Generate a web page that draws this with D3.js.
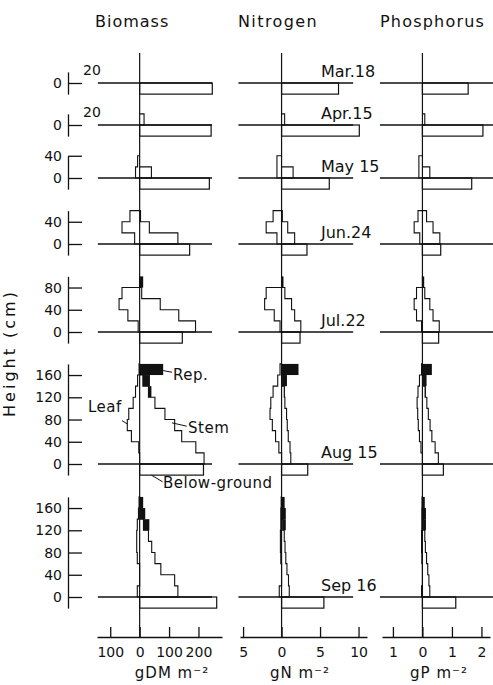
<!DOCTYPE html>
<html>
<head>
<meta charset="utf-8">
<script src="https://cdn.jsdelivr.net/npm/d3@7"></script>
<style>
body { margin: 0; background: #fff; }
svg text { font-family: "DejaVu Sans", sans-serif; fill: #111; }
</style>
</head>
<body>
<div id="chart"></div>
<script>
// vertical profiles of a stand, 20 cm layers counted up from the ground
var dates = ["Mar.18", "Apr.15", "May 15", "Jun.24", "Jul.22", "Aug 15", "Sep 16"];
var axisTops = [20, 20, 40, 60, 100, 180, 180];
var heightLabels = [[0], [0], [0, 40], [0, 40], [0, 40, 80], [0, 40, 80, 120, 160], [0, 40, 80, 120, 160]];

// biomass, g DM m-2
var bioLeaf = [[], [], [14, 7], [17, 60, 33], [5, 40, 70, 60], [0, 3, 28, 42, 37, 22, 14, 7, 2], [8, 0, 0, 8, 10, 10, 8, 4, 2]];
var bioStem = [[], [15], [40], [130, 33, 3], [190, 133, 70, 7, 0], [219, 191, 143, 119, 86, 52, 30, 11, 0], [130, 119, 72, 52, 41, 30, 13, 3, 0]];
var bioRep = [[], [], [], [], [0, 0, 0, 0, 12], [0, 0, 0, 0, 0, 0, 10, 24, 80], [0, 0, 0, 0, 0, 0, 20, 16, 12]];
var bioBelow = [247, 243, 237, 170, 145, 217, 262];

// nitrogen, g N m-2
var nLeaf = [[], [], [0.6, 0.6], [0.6, 2.0, 1.1], [0.2, 0.95, 2.2, 2.0], [0, 0.35, 0.78, 1.2, 1.5, 1.4, 1.1, 0.5, 0.2], [0.3, 0, 0, 0.1, 0.15, 0.15, 0.1, 0.1, 0.05]];
var nStem = [[], [0.4], [1.5], [1.7, 0.8, 0.1], [2.5, 1.7, 1.3, 0.43, 0], [1.2, 1.1, 0.87, 0.74, 0.65, 0.43, 0.35, 0.1, 0], [1.0, 0.9, 0.7, 0.55, 0.45, 0.35, 0.15, 0.05, 0]];
var nRep = [[], [], [], [], [0, 0, 0, 0, 0.25], [0, 0, 0, 0, 0, 0, 0.1, 0.6, 2.2], [0, 0, 0, 0, 0, 0, 0.4, 0.5, 0.4]];
var nBelow = [7.4, 10.1, 6.2, 3.3, 2.4, 3.4, 5.5];

// phosphorus, g P m-2
var pLeaf = [[], [], [0.12, 0.12], [0.09, 0.28, 0.15], [0.03, 0.2, 0.28, 0.2], [0, 0.05, 0.1, 0.14, 0.16, 0.18, 0.15, 0.1, 0.03], [0.03, 0, 0, 0.02, 0.03, 0.03, 0.02, 0.02, 0.01]];
var pStem = [[], [0.08], [0.25], [0.59, 0.36, 0.14], [0.57, 0.36, 0.25, 0.08, 0], [0.54, 0.43, 0.32, 0.26, 0.2, 0.15, 0.09, 0.04, 0], [0.25, 0.22, 0.18, 0.14, 0.1, 0.08, 0.04, 0.02, 0]];
var pRep = [[], [], [], [], [0, 0, 0, 0, 0.06], [0, 0, 0, 0, 0, 0, 0.03, 0.1, 0.32], [0, 0, 0, 0, 0, 0, 0.08, 0.1, 0.08]];
var pBelow = [1.55, 2.05, 1.67, 0.62, 0.55, 0.71, 1.13];

var bioTicks = [-100, 0, 100, 200], bioMinor = [-150, -50, 50, 150, 250];
var nTicks = [-5, 0, 5, 10], nMinor = d3.range(-5, 12, 1);
var pTicks = [-1, 0, 1, 2], pMinor = [-0.5, 0.5, 1.5];

var width = 493, height = 685;
var rowBase = [83, 125, 178, 244, 332, 464, 597];
var cmPx = 0.556;
var layer = 20;
var topY = 53, axisY = 637;

var panels = [
    {title: "Biomass", tx: 95, ls: 1, unit: "gDM m\u207B\u00B2", ux: 172,
     leaf: bioLeaf, stem: bioStem, rep: bioRep, below: bioBelow,
     domain: [-145, 280], range: [97, 222], ground: [-142, 246], major: bioTicks, minor: bioMinor},
    {title: "Nitrogen", tx: 238, ls: 1.4, unit: "gN m\u207B\u00B2", ux: 300,
     leaf: nLeaf, stem: nStem, rep: nRep, below: nBelow,
     domain: [-5.4, 11.1], range: [240, 367], ground: [-5.6, 9.3], major: nTicks, minor: nMinor},
    {title: "Phosphorus", tx: 380, ls: 1.2, unit: "gP m\u207B\u00B2", ux: 439,
     leaf: pLeaf, stem: pStem, rep: pRep, below: pBelow,
     domain: [-1.37, 2.29], range: [382, 490], ground: [-1.44, 2.39], major: pTicks, minor: pMinor}
];

var svg = d3.select("#chart").append("svg")
    .attr("width", width)
    .attr("height", height);

svg.append("rect").attr("width", width).attr("height", height).attr("fill", "#fff");

function rowScale(r) {
    return d3.scaleLinear().domain([0, 100]).range([rowBase[r], rowBase[r] - 100 * cmPx]);
}

var line = d3.line();

panels.forEach(function(p) {
    var x = d3.scaleLinear().domain(p.domain).range(p.range);
    var g = svg.append("g");

    g.append("text").attr("x", p.tx).attr("y", 27)
        .attr("font-size", 16).attr("letter-spacing", p.ls).text(p.title);

    // zero line through the whole column
    g.append("line")
        .attr("x1", x(0)).attr("x2", x(0))
        .attr("y1", topY).attr("y2", axisY)
        .attr("stroke", "#111").attr("stroke-width", 1.2);

    dates.forEach(function(d, r) {
        var y = rowScale(r);

        // ground line
        g.append("line")
            .attr("x1", x(p.ground[0])).attr("x2", x(p.ground[1]))
            .attr("y1", y(0)).attr("y2", y(0))
            .attr("stroke", "#111").attr("stroke-width", 1.6);

        // below-ground bar
        g.append("rect")
            .attr("x", x(0)).attr("y", y(0))
            .attr("width", x(p.below[r]) - x(0))
            .attr("height", y(-layer) - y(0))
            .attr("fill", "none").attr("stroke", "#111").attr("stroke-width", 1.2);

        [["leaf", -1], ["stem", 1]].forEach(function(s) {
            var vals = p[s[0]][r];
            if (!vals.length) return;
            var pts = [[0, 0]];
            vals.forEach(function(v, i) {
                pts.push([s[1] * v, i * layer], [s[1] * v, (i + 1) * layer]);
            });
            pts.push([0, vals.length * layer]);
            g.append("path")
                .attr("d", line(pts.map(function(q) { return [x(q[0]), y(q[1])]; })))
                .attr("fill", "none").attr("stroke", "#111").attr("stroke-width", 1.1);
        });

        p.rep[r].forEach(function(v, i) {
            if (!v) return;
            var s0 = p.stem[r][i] || 0;
            g.append("rect")
                .attr("x", x(s0)).attr("y", y((i + 1) * layer))
                .attr("width", x(s0 + v) - x(s0))
                .attr("height", y(i * layer) - y((i + 1) * layer))
                .attr("fill", "#111");
        });
    });

    // bottom scale, ticks pointing up
    var ax = svg.append("g").attr("transform", "translate(0," + axisY + ")");
    ax.call(d3.axisBottom(x).tickValues(p.minor).tickSize(-5).tickSizeOuter(0).tickFormat(""));
    ax.call(d3.axisBottom(x).tickValues(p.major).tickSize(-10).tickSizeOuter(0).tickPadding(10)
        .tickFormat(function(v) { return Math.abs(v); }));
    ax.selectAll("text").attr("font-size", 14).attr("font-family", "DejaVu Sans");
    ax.selectAll("path, line").attr("stroke", "#111").attr("stroke-width", 1.3);

    svg.append("text").attr("x", p.ux).attr("y", 678)
        .attr("text-anchor", "middle").attr("font-size", 15).attr("letter-spacing", 1)
        .text(p.unit);
});

// height axes, one per date
dates.forEach(function(d, r) {
    var y = rowScale(r);
    var yAx = d3.scaleLinear().domain([-layer, axisTops[r]]).range([y(-layer), y(axisTops[r])]);
    var ga = svg.append("g").attr("transform", "translate(68,0)");
    ga.call(d3.axisLeft(yAx).tickValues(d3.range(-layer, axisTops[r] + 1, layer))
        .tickSize(-8).tickSizeOuter(0).tickFormat(""));
    ga.call(d3.axisLeft(yAx).tickValues(heightLabels[r])
        .tickSize(-14).tickSizeOuter(0).tickPadding(6));
    ga.selectAll("text").attr("font-size", 14).attr("font-family", "DejaVu Sans");
    ga.selectAll("path, line").attr("stroke", "#111").attr("stroke-width", 1.3);
    if (axisTops[r] === 20) {
        svg.append("text").attr("x", 83).attr("y", y(20) + 3)
            .attr("font-size", 14).text(axisTops[r]);
    }

    svg.append("text").attr("x", 321).attr("y", rowBase[r] - 6)
        .attr("font-size", 16).text(d);
});

svg.append("text")
    .attr("transform", "translate(15,353) rotate(-90)")
    .attr("text-anchor", "middle").attr("font-size", 16).attr("letter-spacing", 3)
    .text("Height (cm)");

// labels on the August biomass profile
var xb = d3.scaleLinear().domain(panels[0].domain).range(panels[0].range);
var ya = rowScale(5);
var notes = [
    {text: "Rep.", from: [80, 168], to: [110, 165], tx: 173, ty: 380},
    {text: "Leaf", from: [-42, 72], to: [-60, 78], tx: 88, ty: 412},
    {text: "Stem", from: [110, 74], to: [160, 68], tx: 188, ty: 433},
    {text: "Below-ground", from: [40, -20], to: [78, -32], tx: 163, ty: 488}
];
notes.forEach(function(n) {
    svg.append("line")
        .attr("x1", xb(n.from[0])).attr("y1", ya(n.from[1]))
        .attr("x2", xb(n.to[0])).attr("y2", ya(n.to[1]))
        .attr("stroke", "#111").attr("stroke-width", 1);
    svg.append("text").attr("x", n.tx).attr("y", n.ty)
        .attr("font-size", 15).attr("letter-spacing", 0.5).text(n.text);
});
</script>
</body>
</html>
